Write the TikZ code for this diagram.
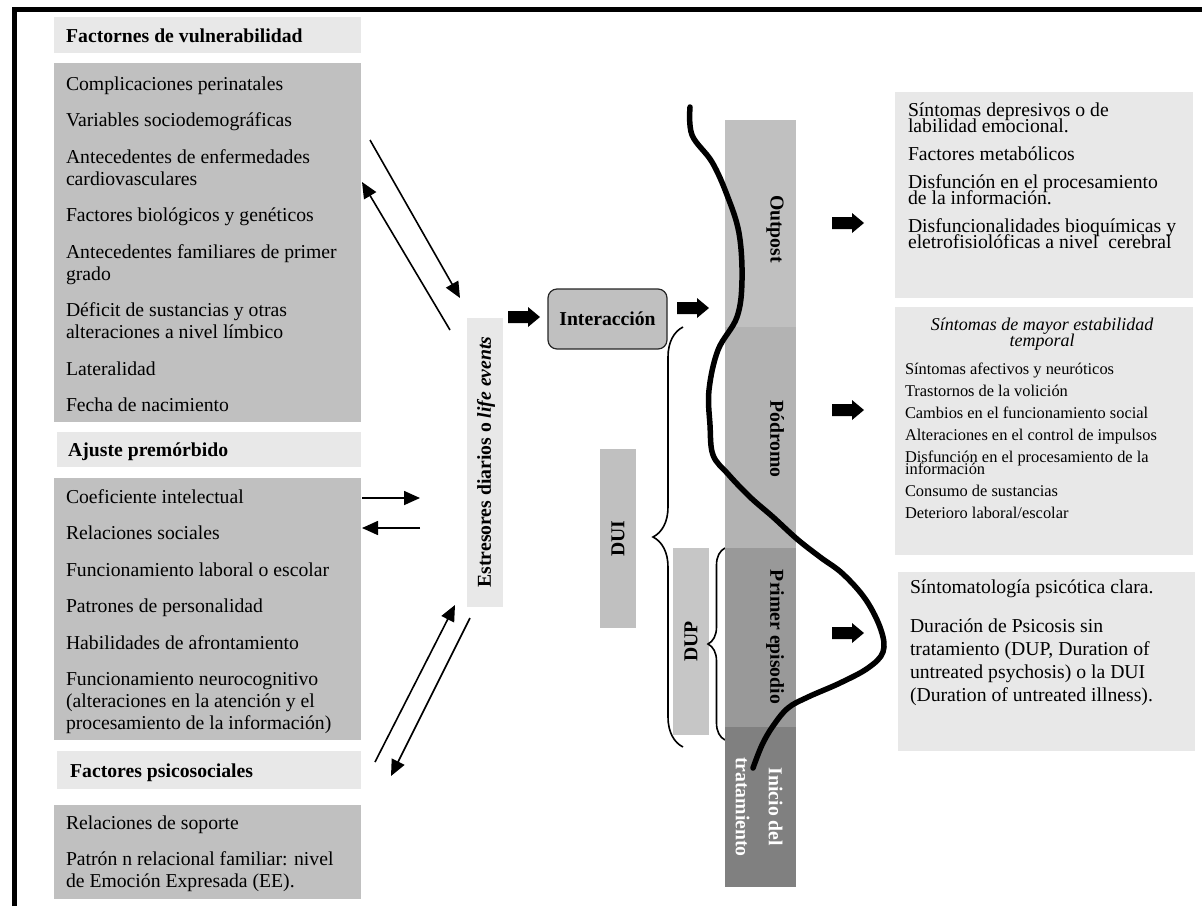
\documentclass[tikz,border=0pt]{standalone}
\usepackage{fontspec}
\setmainfont{Liberation Serif}
\usetikzlibrary{arrows.meta,decorations.pathreplacing}

\definecolor{hdrgray}{HTML}{E8E8E8}
\definecolor{boxgray}{HTML}{C0C0C0}
\definecolor{duigray}{HTML}{C0C0C0}
\definecolor{dupgray}{HTML}{C6C6C6}
\definecolor{outgray}{HTML}{C0C0C0}
\definecolor{prodgray}{HTML}{B3B3B3}
\definecolor{epigray}{HTML}{999999}
\definecolor{treatgray}{HTML}{808080}

\newcommand{\mainsz}{\fontsize{19.7}{22}\selectfont}
\newcommand{\psysz}{\fontsize{19.7}{23}\selectfont}
\newcommand{\tightsz}{\fontsize{19.7}{16}\selectfont\lineskiplimit=-50pt\lineskip=0pt}
\newcommand{\titlesz}{\fontsize{18}{16.5}\selectfont\lineskiplimit=-50pt\lineskip=0pt}
\newcommand{\smallsz}{\fontsize{16.4}{12.5}\selectfont\lineskiplimit=-50pt\lineskip=0pt}
\newcommand{\topstrut}{\rule{0pt}{20pt}}

\tikzset{
  blockarrow/.pic={\fill (0,-6) -- (20,-6) -- (20,-10) -- (32,0) -- (20,10) -- (20,6) -- (0,6) -- cycle;}
}

\begin{document}
\begin{tikzpicture}[x=1pt,y=-1pt,
  panel/.style={anchor=north west,inner sep=0pt,outer sep=0pt,draw=none},
  txt/.style={anchor=north west,inner sep=0pt,outer sep=0pt,align=left,font=\mainsz},
  hdrtxt/.style={anchor=base west,inner sep=0pt,font=\mainsz\bfseries},
  link/.style={line width=1.6pt,-{Triangle[length=16pt,width=14pt]}},
  stagebar/.style={anchor=north west,inner sep=0pt,outer sep=0pt,minimum width=71pt},
  vlabel/.style={font=\mainsz\bfseries,inner sep=0pt},
  bracestyle/.style={decorate,decoration={brace,amplitude=#1},line width=1.6pt},
  illcurve/.style={line width=5.5pt,line cap=round,line join=round},
]
\useasboundingbox (0,0) rectangle (1202,906);

% frame
\draw[line width=5pt] (14.5,906) -- (14.5,9) -- (1202,9);

% ---- left column: vulnerability factors
\node[panel,fill=hdrgray,minimum width=307,minimum height=36] (hvul) at (54,17) {};
\node[hdrtxt] (hvultxt) at (66,42) {Factornes de vulnerabilidad};
\node[panel,fill=boxgray,minimum width=307,minimum height=359] (gvul) at (54,63) {};
\node[txt] (tvul) at (66,70) {\topstrut Complicaciones perinatales\\[14.5pt]
  Variables sociodemográficas\\[14.5pt]
  Antecedentes de enfermedades\\cardiovasculares\\[14.5pt]
  Factores biológicos y genéticos\\[14.5pt]
  Antecedentes familiares de primer\\grado\\[14.5pt]
  Déficit de sustancias y otras\\alteraciones a nivel límbico\\[14.5pt]
  Lateralidad\\[14.5pt]
  Fecha de nacimiento};

% ---- premorbid adjustment
\node[panel,fill=hdrgray,minimum width=304,minimum height=35] (hpre) at (57,432) {};
\node[hdrtxt] (hpretxt) at (68,456) {Ajuste premórbido};
\node[panel,fill=boxgray,minimum width=307,minimum height=262] (gpre) at (54,478) {};
\node[txt] (tpre) at (66,483) {\topstrut Coeficiente intelectual\\[14.5pt]
  Relaciones sociales\\[14.5pt]
  Funcionamiento laboral o escolar\\[14.5pt]
  Patrones de personalidad\\[14.5pt]
  Habilidades de afrontamiento\\[14.5pt]
  Funcionamiento neurocognitivo\\(alteraciones en la atención y el\\procesamiento de la información)};

% ---- psychosocial factors
\node[panel,fill=hdrgray,minimum width=304,minimum height=38] (hpsy) at (57,751) {};
\node[hdrtxt] (hpsytxt) at (70,777) {Factores psicosociales};
\node[panel,fill=boxgray,minimum width=307,minimum height=94] (gpsy) at (54,805) {};
\node[txt] (tpsy) at (66,809) {\topstrut Relaciones de soporte\\[14.5pt]
  Patrón n relacional familiar: nivel\\de Emoción Expresada (EE).};

% ---- stressors
\node[panel,fill=hdrgray,minimum width=36,minimum height=289] (estbar) at (467,318) {};
\node[vlabel,rotate=90] (estlbl) at (486,462) {Estresores diarios o \textit{life events}};

% two-way links between the factor groups and the stressors
\coordinate (a1s) at (370,140); \coordinate (a1e) at (460,298);
\coordinate (a2s) at (450,330); \coordinate (a2e) at (362,182);
\coordinate (b1s) at (362,498); \coordinate (b1e) at (420,498);
\coordinate (b2s) at (420,528); \coordinate (b2e) at (362,528);
\coordinate (c1s) at (375,762); \coordinate (c1e) at (455,605);
\coordinate (c2s) at (470,618); \coordinate (c2e) at (391,776);
\draw[link] (a1s) -- (a1e);
\draw[link] (a2s) -- (a2e);
\draw[link] (b1s) -- (b1e);
\draw[link] (b2s) -- (b2e);
\draw[link] (c1s) -- (c1e);
\draw[link] (c2s) -- (c2e);

% ---- interaction
\pic (ba1) at (508,317) {blockarrow};
\node[draw=black!85,fill=boxgray,rounded corners=9pt,line width=1.2pt,
  minimum width=119,minimum height=60,font=\mainsz\bfseries] (inter) at (607.5,319) {Interacción};
\pic (ba2) at (677,308) {blockarrow};

% ---- durations
\node[panel,fill=duigray,minimum width=36,minimum height=179] (duibox) at (600,449) {};
\node[vlabel,rotate=90] (duilbl) at (duibox.center) {DUI};
\node[panel,fill=dupgray,minimum width=36,minimum height=187] (dupbox) at (673,548) {};
\node[vlabel,rotate=90] (duplbl) at (dupbox.center) {DUP};
\coordinate (duitop) at (683,327); \coordinate (duibot) at (683,747);
\draw[bracestyle=30pt] (duibot) -- (duitop);
\coordinate (duptop) at (725,548); \coordinate (dupbot) at (725,740);
\draw[bracestyle=17pt] (dupbot) -- (duptop);

% ---- stages
\node[stagebar,fill=outgray,minimum height=207] (sout) at (725,120) {};
\node[stagebar,fill=prodgray,minimum height=221] (sprod) at (725,327) {};
\node[stagebar,fill=epigray,minimum height=179] (sepi) at (725,548) {};
\node[stagebar,fill=treatgray,minimum height=160] (streat) at (725,727) {};
\node[vlabel,rotate=-90] (lout) at (775,229) {Outpost};
\node[vlabel,rotate=-90] (lprod) at (777,439) {Pódromo};
\node[vlabel,rotate=-90] (lepi) at (775,637) {Primer episodio};
\node[vlabel,rotate=-90,text=white,align=center] (ltreat) at (759,807) {Inicio del\\[11pt]tratamiento};

% illness course
\draw[illcurve] plot[smooth,tension=0.6] coordinates {(690,107) (692,135) (712,162)
  (727,195) (739,233) (742,280) (737,317) (718,350) (709,390) (710,425) (713,455)
  (728,474) (750,497) (773,517) (797,539) (820,557) (843,574) (866,600) (881,630)
  (883,652) (868,668) (840,683) (808,697) (788,708) (773,726) (762,745) (753,768)};

% ---- stage descriptions
\pic (ba3) at (832,223) {blockarrow};
\pic (ba4) at (832,410) {blockarrow};
\pic (ba5) at (832,633) {blockarrow};

\node[panel,fill=hdrgray,minimum width=298,minimum height=206] (rout) at (895,92) {};
\node[txt,font=\tightsz] (tout) at (908,96) {\topstrut Síntomas depresivos o de\\labilidad emocional.\\[12pt]
  Factores metabólicos\\[12pt]
  Disfunción en el procesamiento\\de la información.\\[12pt]
  Disfuncionalidades bioquímicas y\\eletrofisiolóficas a nivel\ \ cerebral};

\node[panel,fill=hdrgray,minimum width=298,minimum height=248] (rprod) at (895,307) {};
\node[anchor=north,inner sep=0pt,align=center,font=\titlesz\itshape] (tprodh) at (1042,310)
  {\topstrut Síntomas de mayor estabilidad\\temporal};
\node[txt,font=\smallsz] (tprod) at (905,354) {\topstrut Síntomas afectivos y neuróticos\\[9.5pt]
  Trastornos de la volición\\[9.5pt]
  Cambios en el funcionamiento social\\[9.5pt]
  Alteraciones en el control de impulsos\\[9.5pt]
  Disfunción en el procesamiento de la\\información\\[9.5pt]
  Consumo de sustancias\\[9.5pt]
  Deterioro laboral/escolar};

\node[panel,fill=hdrgray,minimum width=297,minimum height=179] (repi) at (898,572) {};
\node[txt,font=\psysz] (tepi) at (910,573) {\topstrut Síntomatología psicótica clara.\\[16pt]
  Duración de Psicosis sin\\tratamiento (DUP, Duration of\\untreated psychosis) o la DUI\\(Duration of untreated illness).};
\end{tikzpicture}
\end{document}
